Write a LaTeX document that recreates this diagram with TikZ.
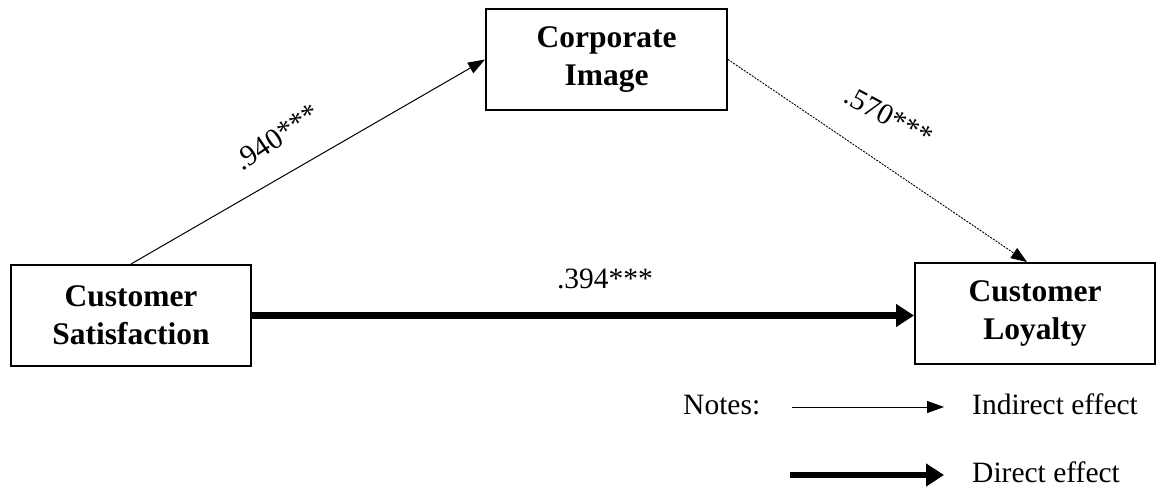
\documentclass[tikz,border=0pt]{standalone}
\usepackage{fontspec}
\setmainfont{Liberation Serif}
\usetikzlibrary{arrows.meta}

\tikzset{
  construct/.style={draw, line width=2pt, align=center, inner sep=0pt,
    minimum width=240pt, minimum height=101pt,
    font=\fontsize{31.5}{38}\selectfont\bfseries},
  coef/.style={font=\fontsize{29.5}{35}\selectfont, inner sep=0pt},
  legendtext/.style={font=\fontsize{29.5}{35}\selectfont, inner sep=0pt},
  indirect/.style={line width=1pt, -{Triangle[length=17pt,width=12pt]}},
  mediated/.style={line width=0.9pt, dash pattern=on 2pt off 1.2pt,
    -{Triangle[length=16pt,width=12pt]}},
  direct/.style={line width=6.5pt, -{Triangle[length=18pt,width=22pt]}}
}

\begin{document}
\begin{tikzpicture}[x=1pt, y=-1pt]
  \useasboundingbox (0,0) rectangle (1161,489);

  % constructs
  \node[construct, minimum width=241pt] (corp) at (606.5,59.5) {Corporate\\Image};
  \node[construct, minimum width=240pt] (sat) at (131,315.5) {Customer\\Satisfaction};
  \node[construct, minimum width=240pt] (loy) at (1035,313.5) {Customer\\Loyalty};

  % paths
  \draw[indirect] (sat.north) -- (corp.west);
  \draw[mediated] (corp.east) -- ([xshift=-8pt]loy.north);
  \draw[direct] (sat.east) -- (sat.east -| loy.west);

  % path coefficients
  \node[coef, rotate=34] (c1) at (277,137) {.940***};
  \node[coef, rotate=-28] (c2) at (889,116) {.570***};
  \node[coef] (c3) at (605,279) {.394***};

  % legend
  \node[legendtext, anchor=base west] (notes) at (683,414) {Notes:};
  \node[legendtext, anchor=base west] (ind) at (972,414) {Indirect effect};
  \node[legendtext, anchor=base west] (dir) at (972,482) {Direct effect};
  \coordinate (ia) at (792,407);
  \coordinate (ib) at (944,407);
  \coordinate (da) at (790,475);
  \coordinate (db) at (944,475);
  \draw[indirect] (ia) -- (ib);
  \draw[direct] (da) -- (db);
\end{tikzpicture}
\end{document}
